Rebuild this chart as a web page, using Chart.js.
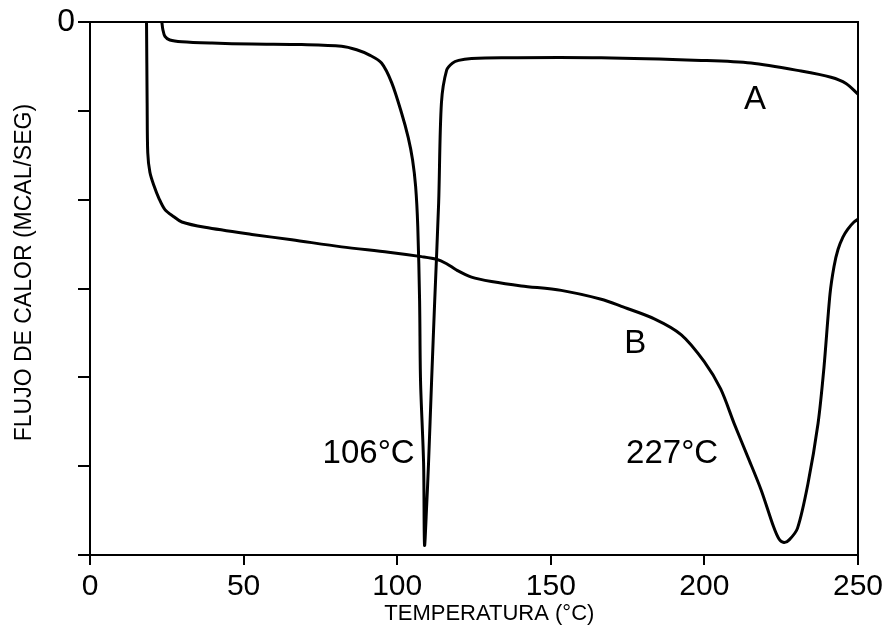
<!DOCTYPE html>
<html>
<head>
<meta charset="utf-8">
<script src="https://cdn.jsdelivr.net/npm/chart.js@4.4.1/dist/chart.umd.min.js"></script>
<style>
  html, body { margin: 0; padding: 0; background: #ffffff; }
  #wrap { width: 887px; height: 639px; position: relative; }
</style>
</head>
<body>
<div id="wrap"><canvas id="c" width="887" height="639"></canvas></div>
<script>
// ---- data (temperature °C, heat flow in axis units; 0 at top) ----
const curveA_T = [23.4, 23.7, 24.4, 26.0, 29.9, 39.7, 52.7, 68.9, 81.9, 86.8, 91.0, 94.9, 98.2, 101.4, 103.6, 105.0, 106.0, 106.7, 107.3, 107.6, 108.6, 108.9, 109.6, 110.2, 111.2, 112.2, 113.5, 114.4, 116.1, 118.0, 120.0, 124.2, 133.9, 166.4, 199.0, 215.2, 231.5, 241.2, 246.1, 250.0];
const curveA_Q = [0, -0.08, -0.16, -0.20, -0.22, -0.235, -0.246, -0.252, -0.27, -0.31, -0.37, -0.46, -0.68, -1.02, -1.30, -1.55, -1.85, -2.30, -3.15, -4.04, -4.97, -5.89, -5.44, -4.97, -4.04, -3.15, -2.03, -0.91, -0.54, -0.46, -0.43, -0.41, -0.40, -0.40, -0.43, -0.46, -0.55, -0.62, -0.69, -0.81];

const curveB_T = [18.4, 18.5, 18.6, 18.8, 19.5, 20.8, 22.4, 24.4, 27.3, 29.9, 37.4, 52.7, 65.7, 81.9, 97.2, 107.9, 112.8, 116.1, 119.3, 124.2, 130.7, 140.4, 153.4, 166.4, 173.0, 183.7, 192.5, 199.9, 205.3, 209.7, 214.2, 218.5, 222.5, 224.3, 225.9, 227.6, 230.3, 233.7, 237.0, 238.9, 240.9, 242.2, 243.5, 245.1, 246.7, 248.7, 250.0];
const curveB_Q = [0, -0.46, -0.91, -1.47, -1.69, -1.84, -1.98, -2.11, -2.19, -2.25, -2.31, -2.39, -2.45, -2.53, -2.59, -2.64, -2.67, -2.72, -2.79, -2.87, -2.92, -2.97, -3.02, -3.12, -3.20, -3.34, -3.52, -3.82, -4.13, -4.52, -4.90, -5.27, -5.68, -5.82, -5.86, -5.83, -5.70, -5.20, -4.52, -3.90, -3.06, -2.75, -2.56, -2.42, -2.33, -2.25, -2.22];

const xTickValues = [0, 50, 100, 150, 200, 250];
const yTickLabels = {"0": "0"};
const xTitle = 'TEMPERATURA (°C)';
const yTitle = 'FLUJO DE CALOR (MCAL/SEG)';

// text labels on the plot
const noteTexts = ["A", "B", "106°C", "227°C"];
const noteT = [216.5, 177.5, 90.7, 189.5];
const noteQ = [-0.87, -3.62, -4.86, -4.86];

const toPts = (xs, ys) => xs.map((x, i) => ({x: x, y: ys[i]}));
const FAM = '"Liberation Sans", Arial, sans-serif';

const notesPlugin = {
  id: 'notes',
  afterDraw(chart) {
    const {ctx, scales, chartArea} = chart;
    ctx.save();
    ctx.fillStyle = '#000';
    ctx.textAlign = 'center';
    ctx.textBaseline = 'middle';
    ctx.font = '33px ' + FAM;
    noteTexts.forEach((t, i) => {
      ctx.fillText(t, scales.x.getPixelForValue(noteT[i]), scales.y.getPixelForValue(noteQ[i]));
    });
    // axis titles
    ctx.font = '22px ' + FAM;
    const xt = chartArea.left + 0.52 * (chartArea.right - chartArea.left);
    ctx.fillText(xTitle, xt, chartArea.bottom + 59);
    ctx.save();
    ctx.translate(25, chartArea.top + 0.47 * (chartArea.bottom - chartArea.top));
    ctx.rotate(-Math.PI / 2);
    ctx.font = '23px ' + FAM;
    ctx.fillText(yTitle, 0, 0);
    ctx.restore();
    ctx.restore();
  }
};

const blackFont = (size) => ({ family: FAM, size: size });

new Chart(document.getElementById('c'), {
  type: 'scatter',
  data: {
    datasets: [
      { label: 'A', data: toPts(curveA_T, curveA_Q), showLine: true, borderColor: '#000', borderWidth: 3,
        pointRadius: 0, tension: 0.3, fill: false },
      { label: 'B', data: toPts(curveB_T, curveB_Q), showLine: true, borderColor: '#000', borderWidth: 3,
        pointRadius: 0, tension: 0.3, fill: false }
    ]
  },
  options: {
    responsive: false,
    animation: false,
    layout: { padding: { top: 19, right: 29, bottom: 0, left: 0 } },
    plugins: { legend: { display: false }, tooltip: { enabled: false } },
    scales: {
      x: {
        type: 'linear', position: 'bottom', min: 0, max: 250,
        afterBuildTicks: (s) => { s.ticks = xTickValues.map(v => ({value: v})); },
        afterFit: (s) => { s.height = 84; },
        ticks: { color: '#000', font: blackFont(30), padding: 4, maxRotation: 0 },
        grid: { drawOnChartArea: false, drawTicks: true, tickLength: 10, color: '#000', lineWidth: 2 },
        border: { display: true, color: '#000', width: 2 },
        title: { display: false }
      },
      y: {
        type: 'linear', position: 'left', min: -6, max: 0,
        afterFit: (s) => { s.width = 90; },
        ticks: { stepSize: 1, color: '#000', font: blackFont(32), padding: 3,
                 callback: (v) => (yTickLabels[String(v)] !== undefined ? yTickLabels[String(v)] : '') },
        grid: { drawOnChartArea: false, drawTicks: true, tickLength: 12, color: '#000', lineWidth: 2 },
        border: { display: true, color: '#000', width: 2 },
        title: { display: false }
      },
      x2: {
        type: 'linear', position: 'top', min: 0, max: 250,
        afterFit: (s) => { s.height = 0; },
        ticks: { display: false }, grid: { display: false, drawTicks: false },
        border: { display: true, color: '#000', width: 2 }
      },
      y2: {
        type: 'linear', position: 'right', min: -6, max: 0,
        afterFit: (s) => { s.width = 0; },
        ticks: { display: false }, grid: { display: false, drawTicks: false },
        border: { display: true, color: '#000', width: 2 }
      }
    }
  },
  plugins: [notesPlugin]
});
</script>
</body>
</html>
